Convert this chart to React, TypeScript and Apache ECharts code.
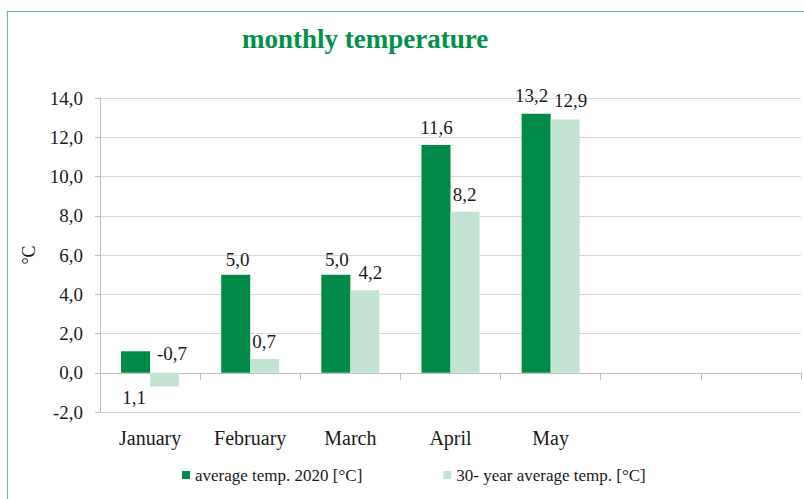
import React, { useEffect, useRef } from "react";
import * as echarts from "echarts";

const categories = ["January", "February", "March", "April", "May", "", ""];
const avg2020 = [1.1, 5.0, 5.0, 11.6, 13.2, null, null];
const avg30y = [-0.7, 0.7, 4.2, 8.2, 12.9, null, null];
const seriesNames = ["average temp. 2020 [°C]", "30- year average temp. [°C]"];
const yMin = -2;
const yMax = 14;
const yStep = 2;
const titleText = "monthly temperature";
const yName = "°C";

// label placement tweaks (styling, not data)
const darkLabelOffsets = [[-1.5, 7.5], [2, 2], [1, 2], [0.5, -0.5], [-4.5, -0.5]];
const darkLabelPos = ["bottom", "top", "top", "top", "top"];
const lightLabelOffsets = [[7.5, -2], [-0.5, 0], [5.5, 0], [-0.5, 0], [5.5, -1.5]];

const DARK = "#008A47";
const LIGHT = "#C3E3D3";
const SERIF = "'Liberation Serif', serif";
const TEXT = "#1a1a1a";

const fmt = (v: number) => v.toFixed(1).replace(".", ",");

export default function App() {
  const ref = useRef<HTMLDivElement>(null);
  useEffect(() => {
    if (!ref.current) return;
    const chart = echarts.init(ref.current, undefined, { renderer: "svg" });
    const labelStyle = { fontFamily: SERIF, fontSize: 19, color: TEXT };
    chart.setOption({
      animation: false,
      backgroundColor: "#ffffff",
      title: {
        text: titleText,
        left: 237,
        top: 20,
        textStyle: { fontFamily: SERIF, fontSize: 27, fontWeight: "bold", color: "#00904A" },
      },
      legend: {
        left: 182,
        top: 466.5,
        padding: 0,
        itemWidth: 8,
        itemHeight: 8,
        itemGap: 81,
        icon: "rect",
        textStyle: { fontFamily: SERIF, fontSize: 17, color: TEXT },
        data: seriesNames,
      },
      grid: { left: 100, right: 3, top: 98, bottom: 87, containLabel: false },
      xAxis: [
        {
          type: "category",
          data: categories,
          axisLine: { show: false, onZero: false },
          axisTick: { show: false },
          axisLabel: { margin: 16, fontFamily: SERIF, fontSize: 20, color: TEXT, interval: 0 },
          splitLine: { show: false },
        },
        {
          type: "category",
          data: categories,
          position: "bottom",
          axisLine: { show: true, onZero: true, lineStyle: { color: "#bfbfbf", width: 1 } },
          axisTick: { show: true, length: 7, lineStyle: { color: "#bfbfbf" } },
          axisLabel: { show: false },
          splitLine: { show: false },
        },
      ],
      yAxis: {
        type: "value",
        min: yMin,
        max: yMax,
        interval: yStep,
        name: yName,
        nameLocation: "middle",
        nameGap: 62,
        nameTextStyle: { fontFamily: SERIF, fontSize: 18, color: TEXT },
        axisLine: { show: true, lineStyle: { color: "#bfbfbf" } },
        axisTick: { show: true, length: 5, lineStyle: { color: "#bfbfbf" } },
        axisLabel: {
          margin: 17,
          fontFamily: SERIF,
          fontSize: 19,
          color: TEXT,
          formatter: (v: number) => fmt(v),
        },
        splitLine: { show: true, lineStyle: { color: "#d9d9d9" } },
      },
      series: [
        {
          name: seriesNames[0],
          type: "bar",
          xAxisIndex: 0,
          barWidth: 29,
          barGap: "0%",
          itemStyle: { color: DARK },
          data: avg2020.map((v, i) =>
            v === null
              ? null
              : {
                  value: v,
                  label: {
                    show: true,
                    position: darkLabelPos[i],
                    distance: 8,
                    offset: darkLabelOffsets[i],
                    formatter: () => fmt(v),
                    ...labelStyle,
                  },
                }
          ),
        },
        {
          name: seriesNames[1],
          type: "bar",
          xAxisIndex: 0,
          barWidth: 29,
          barGap: "0%",
          itemStyle: { color: LIGHT },
          data: avg30y.map((v, i) =>
            v === null
              ? null
              : {
                  value: v,
                  label: {
                    show: true,
                    position: "top",
                    distance: 8,
                    offset: lightLabelOffsets[i],
                    formatter: () => fmt(v),
                    ...labelStyle,
                  },
                }
          ),
        },
      ],
      graphic: [
        {
          type: "rect",
          silent: true,
          shape: { x: 7.5, y: 11.5, width: 810, height: 510 },
          style: { fill: "none", stroke: "#6fb790", lineWidth: 1.2 },
        },
      ],
    });
    return () => chart.dispose();
  }, []);
  return (
    <div
      ref={ref}
      style={{ position: "absolute", left: 0, top: 0, width: 804, height: 499 }}
    />
  );
}
